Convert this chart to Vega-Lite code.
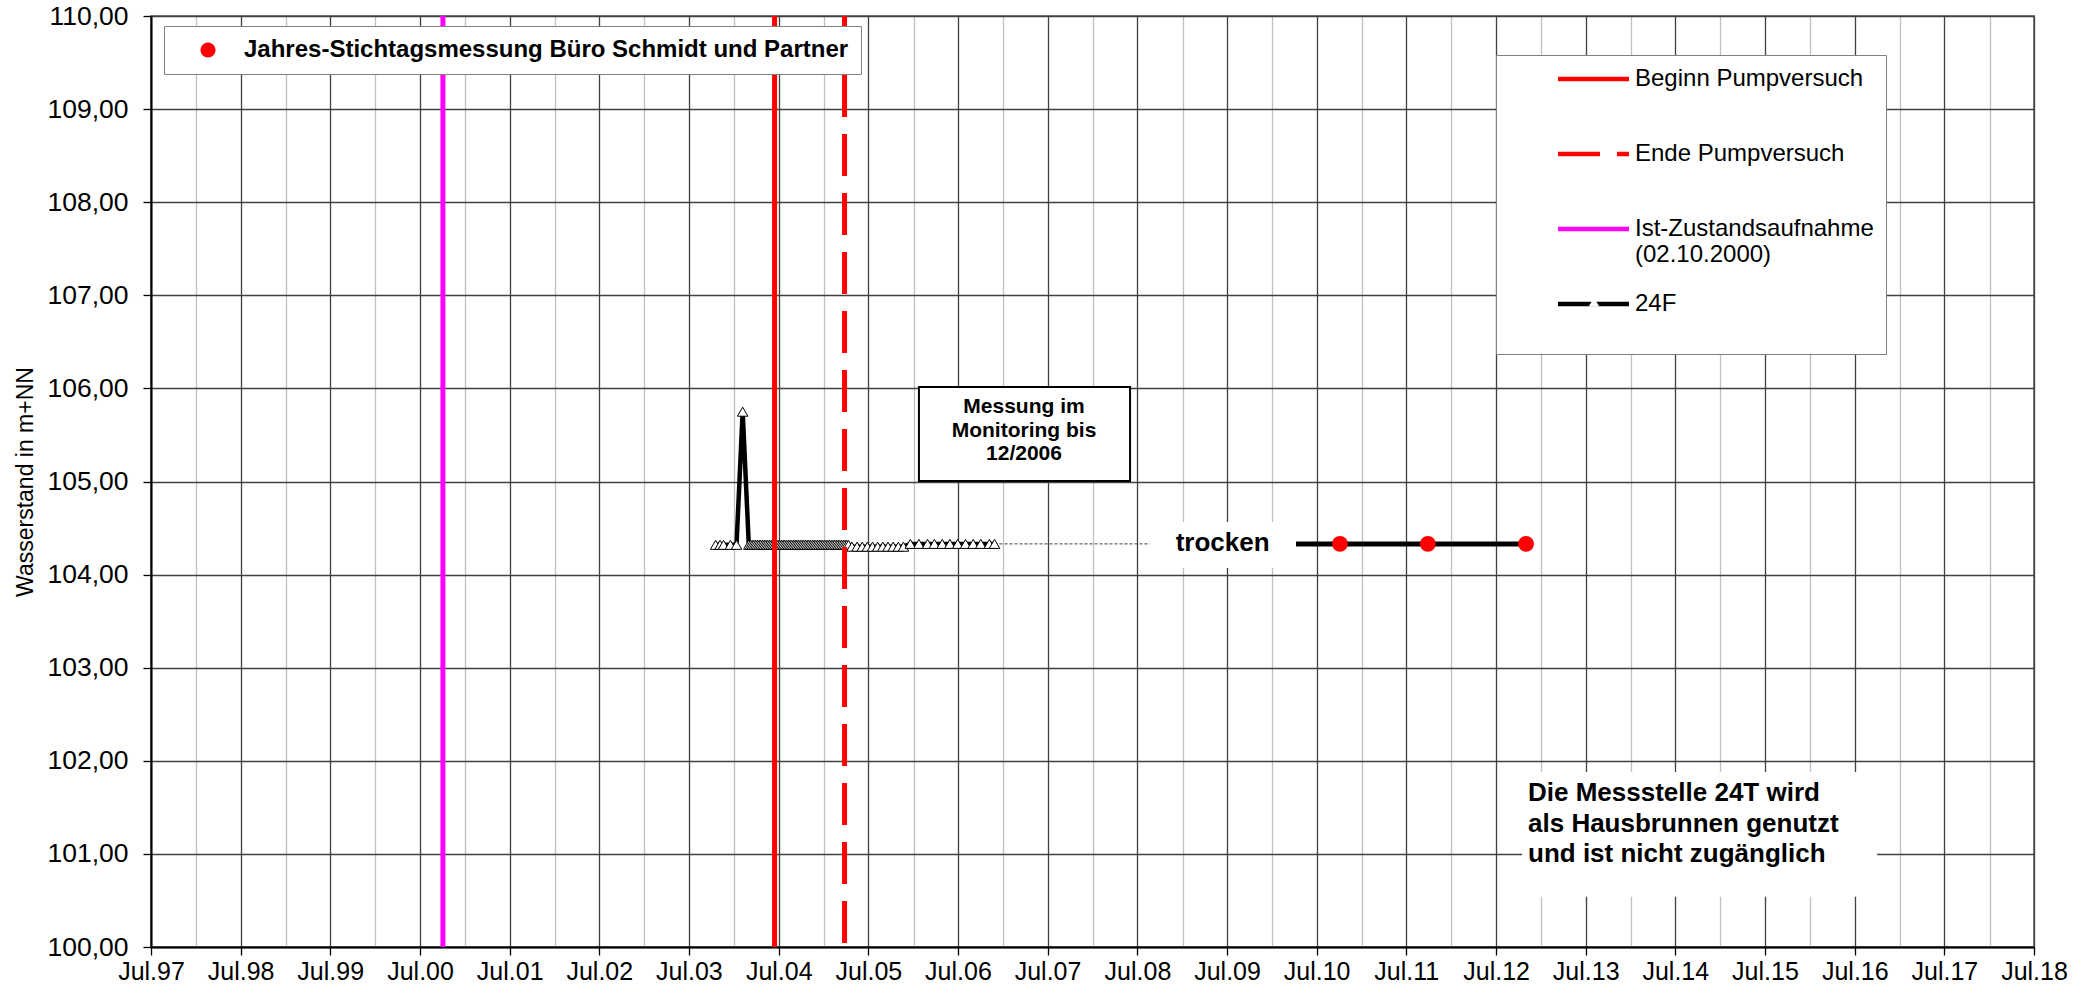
{
  "$schema": "https://vega.github.io/schema/vega-lite/v6.json",
  "width": 1883,
  "height": 931,
  "autosize": {"type": "none"},
  "padding": {"left": 151, "top": 16, "right": 55, "bottom": 46},
  "background": "white",
  "config": {
    "font": "Liberation Sans",
    "view": {"stroke": "#808080", "strokeWidth": 2},
    "locale": {"number": {"decimal": ",", "thousands": ".", "grouping": [3], "currency": ["", " €"]}}
  },
  "resolve": {"axis": {"x": "independent"}},
  "datasets": {
    "series24F": [
      {"date": "2003-10-18", "value": 104.32, "series": "24F"},
      {"date": "2003-11-05", "value": 104.32, "series": "24F"},
      {"date": "2003-11-19", "value": 104.32, "series": "24F"},
      {"date": "2003-12-17", "value": 104.32, "series": "24F"},
      {"date": "2004-01-11", "value": 104.32, "series": "24F"},
      {"date": "2004-02-05", "value": 105.75, "series": "24F"},
      {"date": "2004-03-01", "value": 104.32, "series": "24F"},
      {"date": "2004-03-08", "value": 104.32, "series": "24F"},
      {"date": "2004-03-15", "value": 104.32, "series": "24F"},
      {"date": "2004-03-22", "value": 104.32, "series": "24F"},
      {"date": "2004-03-29", "value": 104.32, "series": "24F"},
      {"date": "2004-04-05", "value": 104.32, "series": "24F"},
      {"date": "2004-04-12", "value": 104.32, "series": "24F"},
      {"date": "2004-04-19", "value": 104.32, "series": "24F"},
      {"date": "2004-04-26", "value": 104.32, "series": "24F"},
      {"date": "2004-05-03", "value": 104.32, "series": "24F"},
      {"date": "2004-05-10", "value": 104.32, "series": "24F"},
      {"date": "2004-05-17", "value": 104.32, "series": "24F"},
      {"date": "2004-05-24", "value": 104.32, "series": "24F"},
      {"date": "2004-05-31", "value": 104.32, "series": "24F"},
      {"date": "2004-06-07", "value": 104.32, "series": "24F"},
      {"date": "2004-06-14", "value": 104.32, "series": "24F"},
      {"date": "2004-06-21", "value": 104.32, "series": "24F"},
      {"date": "2004-06-28", "value": 104.32, "series": "24F"},
      {"date": "2004-07-05", "value": 104.32, "series": "24F"},
      {"date": "2004-07-12", "value": 104.32, "series": "24F"},
      {"date": "2004-07-19", "value": 104.32, "series": "24F"},
      {"date": "2004-07-26", "value": 104.32, "series": "24F"},
      {"date": "2004-08-02", "value": 104.32, "series": "24F"},
      {"date": "2004-08-09", "value": 104.32, "series": "24F"},
      {"date": "2004-08-16", "value": 104.32, "series": "24F"},
      {"date": "2004-08-23", "value": 104.32, "series": "24F"},
      {"date": "2004-08-30", "value": 104.32, "series": "24F"},
      {"date": "2004-09-06", "value": 104.32, "series": "24F"},
      {"date": "2004-09-13", "value": 104.32, "series": "24F"},
      {"date": "2004-09-20", "value": 104.32, "series": "24F"},
      {"date": "2004-09-27", "value": 104.32, "series": "24F"},
      {"date": "2004-10-04", "value": 104.32, "series": "24F"},
      {"date": "2004-10-11", "value": 104.32, "series": "24F"},
      {"date": "2004-10-18", "value": 104.32, "series": "24F"},
      {"date": "2004-10-25", "value": 104.32, "series": "24F"},
      {"date": "2004-11-01", "value": 104.32, "series": "24F"},
      {"date": "2004-11-08", "value": 104.32, "series": "24F"},
      {"date": "2004-11-15", "value": 104.32, "series": "24F"},
      {"date": "2004-11-22", "value": 104.32, "series": "24F"},
      {"date": "2004-11-29", "value": 104.32, "series": "24F"},
      {"date": "2004-12-06", "value": 104.32, "series": "24F"},
      {"date": "2004-12-13", "value": 104.32, "series": "24F"},
      {"date": "2004-12-20", "value": 104.32, "series": "24F"},
      {"date": "2004-12-27", "value": 104.32, "series": "24F"},
      {"date": "2005-01-03", "value": 104.32, "series": "24F"},
      {"date": "2005-01-10", "value": 104.32, "series": "24F"},
      {"date": "2005-01-17", "value": 104.32, "series": "24F"},
      {"date": "2005-01-24", "value": 104.32, "series": "24F"},
      {"date": "2005-01-31", "value": 104.32, "series": "24F"},
      {"date": "2005-02-07", "value": 104.32, "series": "24F"},
      {"date": "2005-02-14", "value": 104.32, "series": "24F"},
      {"date": "2005-02-21", "value": 104.32, "series": "24F"},
      {"date": "2005-02-28", "value": 104.32, "series": "24F"},
      {"date": "2005-03-07", "value": 104.32, "series": "24F"},
      {"date": "2005-03-14", "value": 104.32, "series": "24F"},
      {"date": "2005-03-21", "value": 104.32, "series": "24F"},
      {"date": "2005-03-28", "value": 104.32, "series": "24F"},
      {"date": "2005-04-04", "value": 104.32, "series": "24F"},
      {"date": "2005-04-11", "value": 104.32, "series": "24F"},
      {"date": "2005-04-25", "value": 104.30, "series": "24F"},
      {"date": "2005-05-16", "value": 104.30, "series": "24F"},
      {"date": "2005-06-06", "value": 104.30, "series": "24F"},
      {"date": "2005-06-27", "value": 104.30, "series": "24F"},
      {"date": "2005-07-18", "value": 104.30, "series": "24F"},
      {"date": "2005-08-08", "value": 104.30, "series": "24F"},
      {"date": "2005-08-29", "value": 104.30, "series": "24F"},
      {"date": "2005-09-19", "value": 104.30, "series": "24F"},
      {"date": "2005-10-10", "value": 104.30, "series": "24F"},
      {"date": "2005-10-31", "value": 104.30, "series": "24F"},
      {"date": "2005-11-21", "value": 104.30, "series": "24F"},
      {"date": "2005-12-19", "value": 104.33, "series": "24F"},
      {"date": "2006-01-23", "value": 104.33, "series": "24F"},
      {"date": "2006-02-27", "value": 104.33, "series": "24F"},
      {"date": "2006-03-27", "value": 104.33, "series": "24F"},
      {"date": "2006-04-28", "value": 104.33, "series": "24F"},
      {"date": "2006-05-29", "value": 104.33, "series": "24F"},
      {"date": "2006-06-30", "value": 104.33, "series": "24F"},
      {"date": "2006-08-01", "value": 104.33, "series": "24F"},
      {"date": "2006-09-01", "value": 104.33, "series": "24F"},
      {"date": "2006-10-02", "value": 104.33, "series": "24F"},
      {"date": "2006-11-06", "value": 104.33, "series": "24F"},
      {"date": "2006-11-27", "value": 104.33, "series": "24F"}
    ],
    "connector": [
      {"date": "2006-11-27", "value": 104.33},
      {"date": "2008-08-21", "value": 104.33}
    ],
    "dryLine": [
      {"date": "2010-04-08", "value": 104.33},
      {"date": "2012-10-31", "value": 104.33}
    ],
    "stichtag": [
      {"date": "2010-10-04", "value": 104.33, "series": "Jahres-Stichtagsmessung Büro Schmidt und Partner"},
      {"date": "2011-09-27", "value": 104.33, "series": "Jahres-Stichtagsmessung Büro Schmidt und Partner"},
      {"date": "2012-10-31", "value": 104.33, "series": "Jahres-Stichtagsmessung Büro Schmidt und Partner"}
    ],
    "events": [
      {"date": "2000-10-02", "series": "Ist-Zustandsaufnahme (02.10.2000)"},
      {"date": "2004-06-14", "series": "Beginn Pumpversuch"},
      {"date": "2005-03-26", "series": "Ende Pumpversuch"}
    ],
    "boxes": [
      {"date": "2008-08-21", "date2": "2010-04-08", "value": 104.07, "value2": 104.565, "kind": "trocken"},
      {"date": "2012-10-15", "date2": "2016-09-30", "value": 100.54, "value2": 101.88, "kind": "hinweis"}
    ],
    "monitorBox": [
      {"date": "2006-01-23", "date2": "2008-06-01", "value": 105.005, "value2": 106.015}
    ],
    "notes": [
      {"date": "2009-06-13", "value": 104.34, "label": "trocken"}
    ],
    "monitorNote": [
      {"date": "2007-03-27", "value": 105.80, "label": "Messung im\nMonitoring bis\n12/2006"}
    ],
    "hinweisNote": [
      {"date": "2012-11-08", "value": 101.65, "label": "Die Messstelle 24T wird\nals Hausbrunnen genutzt\nund ist nicht zugänglich"}
    ]
  },
  "layer": [
    {
      "data": {"name": "series24F"},
      "mark": {"type": "line", "color": "black", "strokeWidth": 4.5},
      "encoding": {
        "x": {
          "field": "date", "type": "temporal",
          "scale": {"type": "utc", "domain": [{"year": 1997, "month": 7, "date": 1, "utc": true}, {"year": 2018, "month": 7, "date": 1, "utc": true}]},
          "axis": {
            "orient": "bottom",
            "values": [
              {"year": 1997, "month": 7, "date": 1, "utc": true}, {"year": 1998, "month": 7, "date": 1, "utc": true},
              {"year": 1999, "month": 7, "date": 1, "utc": true}, {"year": 2000, "month": 7, "date": 1, "utc": true},
              {"year": 2001, "month": 7, "date": 1, "utc": true}, {"year": 2002, "month": 7, "date": 1, "utc": true},
              {"year": 2003, "month": 7, "date": 1, "utc": true}, {"year": 2004, "month": 7, "date": 1, "utc": true},
              {"year": 2005, "month": 7, "date": 1, "utc": true}, {"year": 2006, "month": 7, "date": 1, "utc": true},
              {"year": 2007, "month": 7, "date": 1, "utc": true}, {"year": 2008, "month": 7, "date": 1, "utc": true},
              {"year": 2009, "month": 7, "date": 1, "utc": true}, {"year": 2010, "month": 7, "date": 1, "utc": true},
              {"year": 2011, "month": 7, "date": 1, "utc": true}, {"year": 2012, "month": 7, "date": 1, "utc": true},
              {"year": 2013, "month": 7, "date": 1, "utc": true}, {"year": 2014, "month": 7, "date": 1, "utc": true},
              {"year": 2015, "month": 7, "date": 1, "utc": true}, {"year": 2016, "month": 7, "date": 1, "utc": true},
              {"year": 2017, "month": 7, "date": 1, "utc": true}, {"year": 2018, "month": 7, "date": 1, "utc": true}
            ],
            "format": "%b.%y",
            "grid": true, "gridColor": "#404040", "gridWidth": 1.3,
            "domainColor": "black", "domainWidth": 2,
            "tickColor": "black", "tickSize": 8, "tickWidth": 1.3,
            "labelFont": "Liberation Sans", "labelFontSize": 25, "labelColor": "black", "labelPadding": 4,
            "labelFlush": false, "labelOverlap": false,
            "title": null
          }
        },
        "y": {
          "field": "value", "type": "quantitative",
          "scale": {"domain": [100, 110], "nice": false, "zero": false},
          "axis": {
            "values": [100, 101, 102, 103, 104, 105, 106, 107, 108, 109, 110],
            "format": ".2f",
            "grid": true, "gridColor": "#404040", "gridWidth": 1.3,
            "domainColor": "black", "domainWidth": 2,
            "tickColor": "black", "tickSize": 8, "tickWidth": 1.3,
            "labelFont": "Liberation Sans", "labelFontSize": 26.5, "labelColor": "black", "labelPadding": 15,
            "labelFlush": false, "labelOverlap": false,
            "title": "Wasserstand in m+NN",
            "titleFont": "Liberation Sans", "titleFontSize": 23, "titleFontWeight": "normal", "titleColor": "black", "titlePadding": 9
          }
        }
      }
    },
    {
      "data": {"name": "connector"},
      "mark": {"type": "line", "color": "#404040", "strokeWidth": 1, "strokeDash": [3, 2]},
      "encoding": {
        "x": {"field": "date", "type": "temporal", "axis": null},
        "y": {"field": "value", "type": "quantitative"}
      }
    },
    {
      "data": {"name": "series24F"},
      "mark": {"type": "point", "shape": "triangle-up", "filled": true, "fill": "white", "stroke": "black", "strokeWidth": 1, "size": 110, "opacity": 1},
      "encoding": {
        "x": {"field": "date", "type": "temporal", "axis": null},
        "y": {"field": "value", "type": "quantitative"}
      }
    },
    {
      "data": {"name": "boxes"},
      "mark": {"type": "rect", "fill": "white"},
      "encoding": {
        "x": {"field": "date", "type": "temporal", "axis": null},
        "x2": {"field": "date2"},
        "y": {"field": "value", "type": "quantitative"},
        "y2": {"field": "value2"}
      }
    },
    {
      "data": {"name": "notes"},
      "mark": {"type": "text", "font": "Liberation Sans", "fontSize": 26, "fontWeight": "bold", "color": "black", "align": "center", "baseline": "middle"},
      "encoding": {
        "x": {"field": "date", "type": "temporal", "axis": null},
        "y": {"field": "value", "type": "quantitative"},
        "text": {"field": "label"}
      }
    },
    {
      "data": {"name": "dryLine"},
      "mark": {"type": "line", "color": "black", "strokeWidth": 5},
      "encoding": {
        "x": {"field": "date", "type": "temporal", "axis": null},
        "y": {"field": "value", "type": "quantitative"}
      }
    },
    {
      "data": {"name": "stichtag"},
      "mark": {"type": "circle", "size": 250, "opacity": 1},
      "encoding": {
        "x": {"field": "date", "type": "temporal", "axis": null},
        "y": {"field": "value", "type": "quantitative"},
        "fill": {
          "field": "series", "type": "nominal",
          "scale": {"range": ["#ff0000"]},
          "legend": {
            "orient": "none", "legendX": 13, "legendY": 10, "title": null,
            "fillColor": "white", "strokeColor": "#808080", "padding": 12,
            "symbolType": "circle", "symbolSize": 230, "symbolOffset": 20, "labelOffset": 24,
            "labelFont": "Liberation Sans", "labelFontSize": 24, "labelFontWeight": "bold", "labelColor": "black", "labelLimit": 900
          }
        }
      }
    },
    {
      "data": {"name": "monitorBox"},
      "mark": {"type": "rect", "fill": "white", "stroke": "black", "strokeWidth": 2},
      "encoding": {
        "x": {"field": "date", "type": "temporal", "axis": null},
        "x2": {"field": "date2"},
        "y": {"field": "value", "type": "quantitative"},
        "y2": {"field": "value2"}
      }
    },
    {
      "data": {"name": "monitorNote"},
      "mark": {"type": "text", "font": "Liberation Sans", "fontSize": 21, "fontWeight": "bold", "color": "black", "align": "center", "baseline": "middle", "lineBreak": "\n", "lineHeight": 23.5},
      "encoding": {
        "x": {"field": "date", "type": "temporal", "axis": null},
        "y": {"field": "value", "type": "quantitative"},
        "text": {"field": "label"}
      }
    },
    {
      "data": {"name": "hinweisNote"},
      "mark": {"type": "text", "font": "Liberation Sans", "fontSize": 26, "fontWeight": "bold", "color": "black", "align": "left", "baseline": "middle", "lineBreak": "\n", "lineHeight": 30.5},
      "encoding": {
        "x": {"field": "date", "type": "temporal", "axis": null},
        "y": {"field": "value", "type": "quantitative"},
        "text": {"field": "label"}
      }
    },
    {
      "data": {"name": "events"},
      "mark": {"type": "rule", "strokeWidth": 5},
      "encoding": {
        "x": {
          "field": "date", "type": "temporal",
          "scale": {"type": "utc", "domain": [{"year": 1997, "month": 7, "date": 1, "utc": true}, {"year": 2018, "month": 7, "date": 1, "utc": true}]},
          "axis": {
            "orient": "bottom",
            "values": [
              {"year": 1998, "month": 1, "date": 1, "utc": true}, {"year": 1999, "month": 1, "date": 1, "utc": true},
              {"year": 2000, "month": 1, "date": 1, "utc": true}, {"year": 2001, "month": 1, "date": 1, "utc": true},
              {"year": 2002, "month": 1, "date": 1, "utc": true}, {"year": 2003, "month": 1, "date": 1, "utc": true},
              {"year": 2004, "month": 1, "date": 1, "utc": true}, {"year": 2005, "month": 1, "date": 1, "utc": true},
              {"year": 2006, "month": 1, "date": 1, "utc": true}, {"year": 2007, "month": 1, "date": 1, "utc": true},
              {"year": 2008, "month": 1, "date": 1, "utc": true}, {"year": 2009, "month": 1, "date": 1, "utc": true},
              {"year": 2010, "month": 1, "date": 1, "utc": true}, {"year": 2011, "month": 1, "date": 1, "utc": true},
              {"year": 2012, "month": 1, "date": 1, "utc": true}, {"year": 2013, "month": 1, "date": 1, "utc": true},
              {"year": 2014, "month": 1, "date": 1, "utc": true}, {"year": 2015, "month": 1, "date": 1, "utc": true},
              {"year": 2016, "month": 1, "date": 1, "utc": true}, {"year": 2017, "month": 1, "date": 1, "utc": true},
              {"year": 2018, "month": 1, "date": 1, "utc": true}
            ],
            "grid": true, "gridColor": "#c0c0c0", "gridWidth": 1.3,
            "labels": false, "ticks": false, "domain": false, "title": null
          }
        },
        "color": {
          "field": "series", "type": "nominal",
          "scale": {
            "domain": ["Beginn Pumpversuch", "Ende Pumpversuch", "Ist-Zustandsaufnahme (02.10.2000)", "24F"],
            "range": ["#ff0000", "#ff0000", "#ff00ff", "#000000"]
          },
          "legend": {
            "orient": "none", "legendX": 1345, "legendY": 39, "title": null, "direction": "vertical",
            "fillColor": "white", "strokeColor": "#808080", "padding": 12,
            "symbolType": "M-7.1,0H7.1M33.3,0", "symbolSize": 100, "symbolStrokeWidth": 4.5,
            "symbolOffset": 73.5, "labelOffset": 29.5, "rowPadding": 25,
            "labelFont": "Liberation Sans", "labelFontSize": 24, "labelColor": "black", "labelLimit": 900, "labelBaseline": "middle",
            "labelExpr": "datum.label == 'Ist-Zustandsaufnahme (02.10.2000)' ? ['Ist-Zustandsaufnahme', '(02.10.2000)'] : [datum.label, '']"
          }
        },
        "strokeDash": {
          "field": "series", "type": "nominal",
          "scale": {
            "domain": ["Beginn Pumpversuch", "Ende Pumpversuch", "Ist-Zustandsaufnahme (02.10.2000)", "24F"],
            "range": [[1, 0], [42, 17], [1, 0], [1, 0]]
          },
          "legend": {
            "orient": "none", "legendX": 1345, "legendY": 39, "title": null, "direction": "vertical",
            "fillColor": "white", "strokeColor": "#808080", "padding": 12,
            "symbolType": "M-7.1,0H7.1M33.3,0", "symbolSize": 100, "symbolStrokeWidth": 4.5,
            "symbolOffset": 73.5, "labelOffset": 29.5, "rowPadding": 25,
            "labelFont": "Liberation Sans", "labelFontSize": 24, "labelColor": "black", "labelLimit": 900, "labelBaseline": "middle",
            "labelExpr": "datum.label == 'Ist-Zustandsaufnahme (02.10.2000)' ? ['Ist-Zustandsaufnahme', '(02.10.2000)'] : [datum.label, '']"
          }
        }
      }
    },
    {
      "data": {"name": "series24F"},
      "mark": {"type": "point", "filled": true, "fill": "white", "stroke": "black", "strokeWidth": 1, "size": 110, "opacity": 0},
      "encoding": {
        "x": {"field": "date", "type": "temporal", "axis": null},
        "y": {"field": "value", "type": "quantitative"},
        "shape": {
          "field": "series", "type": "nominal",
          "scale": {"range": ["triangle-up"]},
          "legend": {
            "orient": "none", "legendX": 1437, "legendY": 280, "title": null, "zindex": 3,
            "padding": 0, "symbolOffset": 0, "labelFontSize": 1, "labelExpr": "''",
            "symbolSize": 110, "symbolOpacity": 1, "symbolFillColor": "white", "symbolStrokeColor": "black", "symbolStrokeWidth": 1.3
          }
        }
      }
    }
  ]
}
